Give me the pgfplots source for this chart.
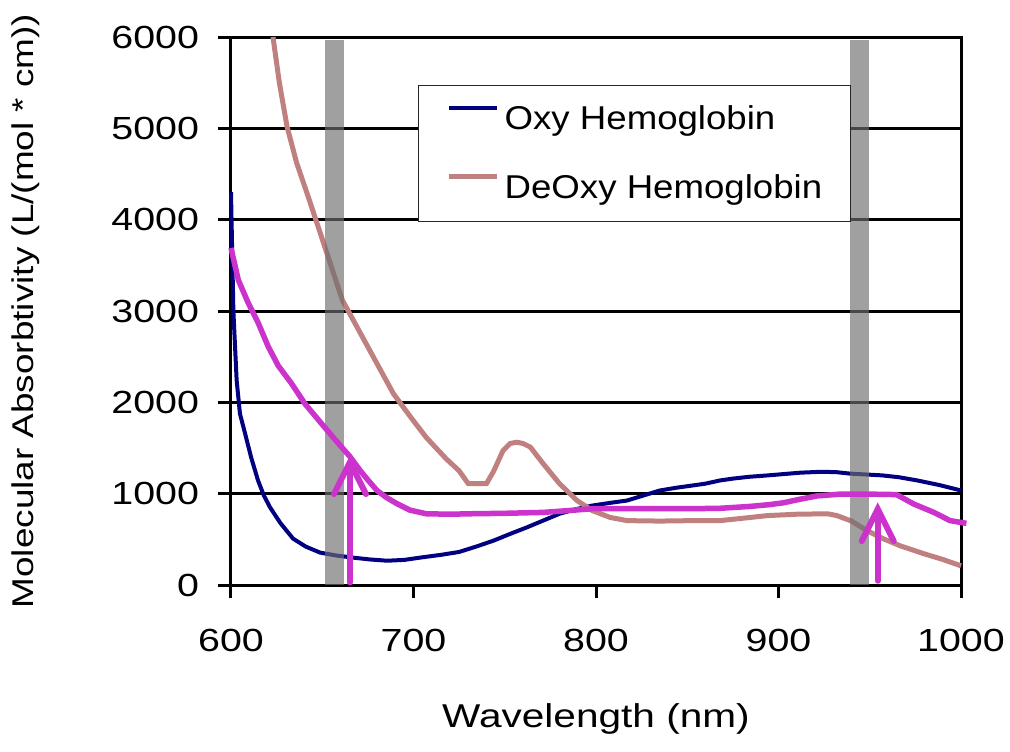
\documentclass[border=0pt]{standalone}
\usepackage{fontspec}
\setmainfont{Liberation Sans}[FakeStretch=1.23]
\newfontfamily\legendfont{Liberation Sans}[FakeStretch=1.11]
\usepackage{pgfplots}
\pgfplotsset{compat=1.18}
\usetikzlibrary{arrows.meta}

\definecolor{oxy}{RGB}{0,0,128}
\definecolor{deoxy}{RGB}{192,128,128}
\definecolor{mix}{RGB}{204,51,204}
\definecolor{band}{RGB}{110,110,110}

% Oxygenated haemoglobin
\pgfplotstableread{
x y
600 4300
601.3 3000
603.1 2240
604.9 1876
607.7 1660
611 1400
614.8 1145
618 980
621.4 850
627 680
634 508
641 420
648.8 355
657 325
666.8 300
676 280
685.5 266
695 275
703.6 300
715 330
725 362
735 425
744 487
753 560
762 630
771 705
780 780
789 830
798 870
808 900
817 925
826 980
835 1035
844 1065
853 1090
860 1110
868 1145
875 1165
884 1185
894 1200
903 1215
912 1230
924 1240
932 1235
939 1220
948 1210
957 1200
966 1180
976 1145
988 1095
1000 1035
}\oxytable

% Deoxygenated haemoglobin
\pgfplotstableread{
x y
623 6000
626.5 5500
630.7 5020
636 4620
643 4210
652.6 3630
661 3120
667 2900
676 2570
689 2095
698 1850
707 1615
718 1380
725 1250
730 1110
740 1110
744 1250
749 1470
753 1550
756.5 1563
760 1550
764 1510
771 1330
780 1110
789.6 925
798 815
807.7 740
817 705
835 700
853 705
868 705
880 730
894 760
910 775
927 780
932 760
940 700
948.5 595
957 510
966.6 430
980 340
990 280
1000 210
}\deoxytable

% Combined curve
\pgfplotstableread{
x y
600 3690
604 3340
609.5 3085
615 2865
620.4 2610
625.9 2400
633.2 2205
640.5 1985
649.7 1765
655 1640
660.6 1510
665 1410
670.7 1255
675 1150
680 1035
685 960
691 890
698 820
707 780
720 775
731 780
750 785
771 795
785 815
798 835
820 835
850 835
868 840
884 860
895 880
902.6 900
912 940
921 975
933.7 995
950 995
964.7 990
974 888
985 796
994 705
1003 675
}\mixtable

\begin{document}
\begin{tikzpicture}[font=\fontsize{15.5}{18}\selectfont]
\begin{axis}[
  scale only axis, width=365pt, height=274pt,
  xmin=600, xmax=1000, ymin=0, ymax=6000,
  clip=false,
  xtick={600,700,...,1000}, ytick={0,1000,...,6000},
  xtick pos=bottom, ytick pos=left, tick align=outside,
  major tick length=6.5pt,
  every tick/.style={black, line width=1.5pt},
  axis line style={black, line width=1.5pt},
  ymajorgrids, grid style={black, line width=1.5pt},
  /pgf/number format/assume math mode=true,
  /pgf/number format/1000 sep={},
  tick label style={font=\fontsize{16}{19}\selectfont},
  yticklabel style={xshift=-6pt},
  xticklabel style={yshift=-12pt},
  xlabel={Wavelength (nm)},
  ylabel={Molecular Absorbtivity (L/(mol * cm))},
  xlabel style={at={(axis description cs:0.5,-0.2445)}, anchor=center,
    font=\fontsize{16.5}{19}\selectfont},
  ylabel style={at={(axis description cs:-0.2808,0.5)}, anchor=center,
    font=\fontsize{15}{18}\selectfont},
  legend style={at={(axis cs:702.5,5475)}, anchor=north west,
    draw=black!85, line width=0.6pt, fill=white,
    font=\legendfont\fontsize{16.5}{19}\selectfont,
    inner xsep=14pt, inner ysep=10pt, row sep=20.5pt,
    nodes={inner sep=0pt}, column sep=2.5pt},
  legend cell align=left,
  legend image code/.code={\draw[#1] (0pt,5.8pt) -- (24pt,5.8pt);},
]
\addplot[oxy, line width=2pt] table {\oxytable};
\addlegendentry{Oxy Hemoglobin}
\addplot[deoxy, line width=2.5pt] table {\deoxytable};
\addlegendentry{DeOxy Hemoglobin}

% wavelength bands
\addplot[forget plot, draw=none, fill=band, fill opacity=0.655]
  coordinates {(651.5,5965) (661.9,5965)} \closedcycle;
\addplot[forget plot, draw=none, fill=band, fill opacity=0.655]
  coordinates {(939.2,5965) (949.4,5965)} \closedcycle;

\addplot[forget plot, mix, line width=2.75pt] table {\mixtable};

% markers for the two wavelengths
\addplot[forget plot, mix, line width=3pt, line cap=round,
  -{Straight Barb[length=16pt, width=16pt, line cap=round]}]
  coordinates {(665.2,28) (665.2,1420)};
\addplot[forget plot, mix, line width=3pt, line cap=round,
  -{Straight Barb[length=16pt, width=16pt, line cap=round]}]
  coordinates {(954.4,47) (954.4,905)};

\coordinate (O) at (rel axis cs:0,0);
\end{axis}
\pgfresetboundingbox
\path (O) ++(-115.5pt,-83pt) rectangle ++(505pt,375.5pt);
\end{tikzpicture}
\end{document}
